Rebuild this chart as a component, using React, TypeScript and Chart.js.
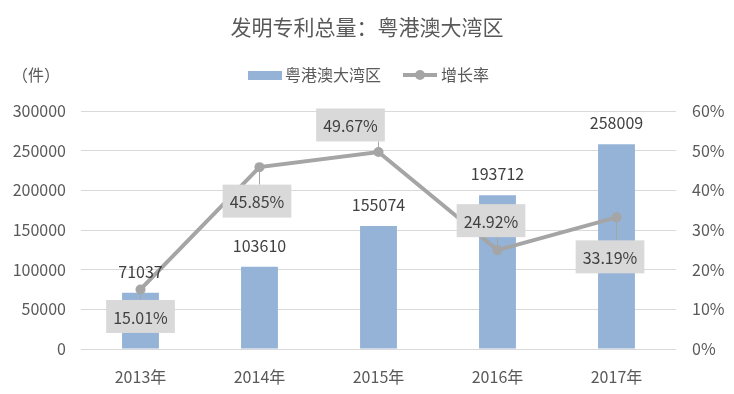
import React, { useEffect, useRef } from 'react';
import { Chart, registerables } from 'chart.js';

Chart.register(...registerables);

const titleText = '发明专利总量：粤港澳大湾区';
const unitText = '（件）';
const categories = ['2013年', '2014年', '2015年', '2016年', '2017年'];
const totalSeriesName = '粤港澳大湾区';
const totals = [71037, 103610, 155074, 193712, 258009];
const growthSeriesName = '增长率';
const growth = [15.01, 45.85, 49.67, 24.92, 33.19];

const FONT = "'Noto Sans CJK SC', 'Noto Sans', sans-serif";
const BAR_COLOR = '#95b3d7';
const LINE_COLOR = '#a5a5a5';
const TEXT = '#595959';
const LABEL_TEXT = '#404040';

const labelPlugin = {
  id: 'customLabels',
  afterDatasetsDraw(chart: any, _args: any, opts: any) {
    const ctx = chart.ctx;
    ctx.save();
    const barMeta = chart.getDatasetMeta(1);
    ctx.font = `16px ${FONT}`;
    ctx.fillStyle = LABEL_TEXT;
    ctx.textAlign = 'center';
    ctx.textBaseline = 'middle';
    barMeta.data.forEach((el: any, i: number) => {
      ctx.fillText(String(totals[i]), el.x, el.y - 21);
    });
    const lineMeta = chart.getDatasetMeta(0);
    const offsets: number[][] = opts.offsets;
    lineMeta.data.forEach((el: any, i: number) => {
      const text = growth[i].toFixed(2) + '%';
      const w = ctx.measureText(text).width + 14;
      const h = 33;
      const cx = el.x + offsets[i][0];
      const cy = el.y + offsets[i][1];
      const l = cx - w / 2, r = cx + w / 2, t = cy - h / 2, b = cy + h / 2;
      const nx = Math.max(l, Math.min(el.x, r));
      const ny = Math.max(t, Math.min(el.y, b));
      ctx.strokeStyle = LINE_COLOR;
      ctx.lineWidth = 1;
      ctx.beginPath();
      ctx.moveTo(el.x, el.y);
      ctx.lineTo(nx, ny);
      ctx.stroke();
      ctx.fillStyle = '#d9d9d9';
      ctx.fillRect(l, t, w, h);
      ctx.fillStyle = LABEL_TEXT;
      ctx.fillText(text, cx, cy + 1);
    });
    ctx.restore();
  },
  afterDraw(chart: any) {
    const ctx = chart.ctx;
    ctx.save();
    ctx.textBaseline = 'middle';
    ctx.fillStyle = TEXT;
    ctx.font = `21px ${FONT}`;
    ctx.textAlign = 'center';
    ctx.fillText(titleText, 367, 27);
    ctx.font = `16px ${FONT}`;
    ctx.textAlign = 'left';
    ctx.fillText(unitText, 12, 75);
    ctx.fillStyle = BAR_COLOR;
    ctx.fillRect(248, 71, 34, 9);
    ctx.fillStyle = TEXT;
    ctx.fillText(totalSeriesName, 285, 75);
    ctx.strokeStyle = LINE_COLOR;
    ctx.lineWidth = 4;
    ctx.beginPath();
    ctx.moveTo(403, 75);
    ctx.lineTo(437, 75);
    ctx.stroke();
    ctx.fillStyle = LINE_COLOR;
    ctx.beginPath();
    ctx.arc(420, 75, 5, 0, Math.PI * 2);
    ctx.fill();
    ctx.fillStyle = TEXT;
    ctx.fillText(growthSeriesName, 441, 75);
    ctx.restore();
  },
};

export default function App() {
  const ref = useRef<HTMLCanvasElement>(null);
  useEffect(() => {
    document.body.style.margin = '0';
    const chart = new Chart(ref.current as HTMLCanvasElement, {
      type: 'bar',
      data: {
        labels: categories,
        datasets: [
          {
            type: 'line',
            label: growthSeriesName,
            data: growth,
            yAxisID: 'y1',
            borderColor: LINE_COLOR,
            backgroundColor: LINE_COLOR,
            borderWidth: 4,
            pointRadius: 5,
            pointBackgroundColor: LINE_COLOR,
            pointBorderWidth: 0,
            tension: 0,
            order: 0,
          } as any,
          {
            type: 'bar',
            label: totalSeriesName,
            data: totals,
            yAxisID: 'y',
            backgroundColor: BAR_COLOR,
            categoryPercentage: 1,
            barPercentage: 0.31,
            order: 1,
          },
        ],
      },
      options: {
        animation: false,
        responsive: false,
        maintainAspectRatio: false,
        layout: { padding: { top: 111, left: 0, right: 0, bottom: 0 } },
        plugins: {
          legend: { display: false },
          title: { display: false },
          tooltip: { enabled: false },
          customLabels: {
            offsets: [[0, 27], [-2.5, 34], [-28, -27], [-6.5, -29.5], [-6.5, 39.5]],
          },
        } as any,
        scales: {
          x: {
            grid: { display: false, drawTicks: false },
            border: { display: false },
            ticks: { color: TEXT, font: { family: FONT, size: 16 }, padding: 18 },
            afterFit: (s: any) => { s.height = 45; },
          },
          y: {
            position: 'left',
            min: 0,
            max: 300000,
            ticks: { stepSize: 50000, color: TEXT, font: { family: FONT, size: 16 }, padding: 15, callback: (v: any) => String(v) },
            grid: { color: '#d9d9d9', drawTicks: false },
            border: { display: false },
            afterFit: (s: any) => { s.width = 81; },
          },
          y1: {
            position: 'right',
            min: 0,
            max: 60,
            ticks: { stepSize: 10, color: TEXT, font: { family: FONT, size: 16 }, padding: 16, callback: (v: any) => v + '%' },
            grid: { drawOnChartArea: false, drawTicks: false },
            border: { display: false },
            afterFit: (s: any) => { s.width = 58; },
          },
        },
      },
      plugins: [labelPlugin],
    });
    return () => chart.destroy();
  }, []);
  return <canvas ref={ref} width={734} height={394} style={{ display: 'block' }} />;
}
